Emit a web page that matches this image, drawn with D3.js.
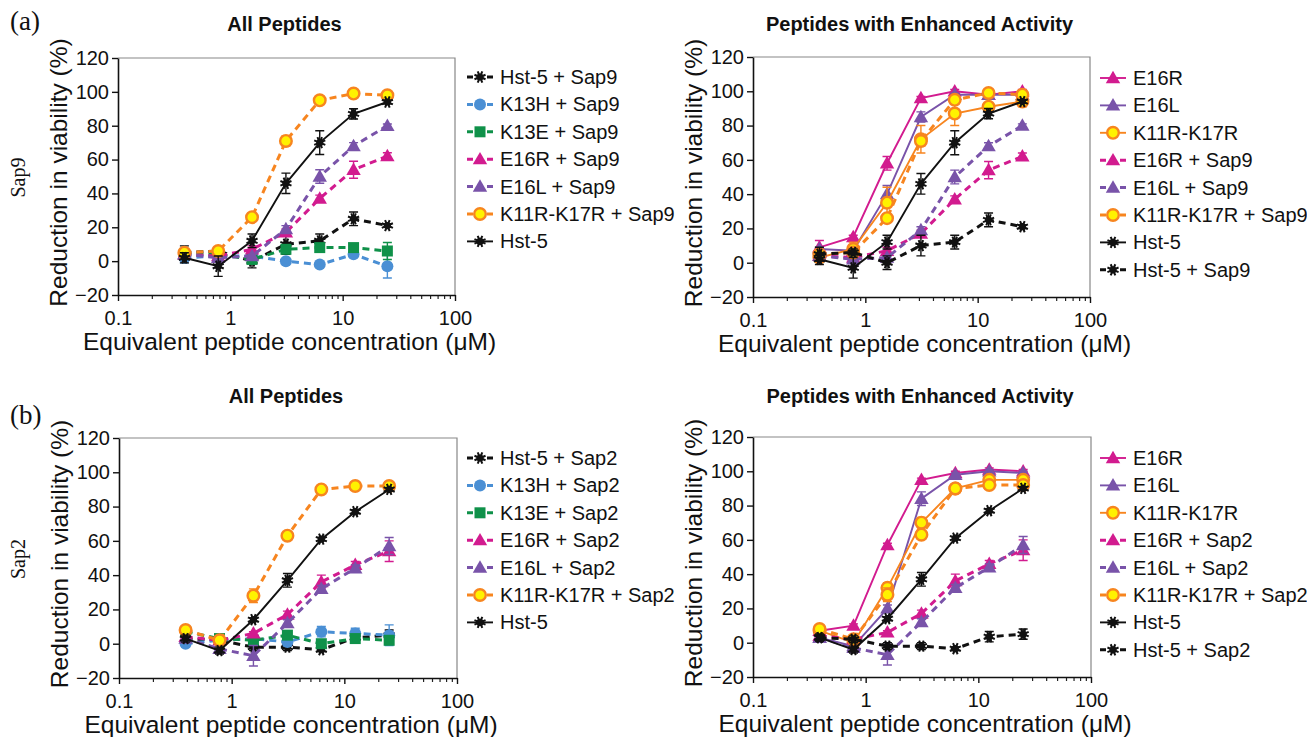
<!DOCTYPE html>
<html>
<head>
<meta charset="utf-8">
<script src="https://cdn.jsdelivr.net/npm/d3@7/dist/d3.min.js"></script>
<style>
  body { margin: 0; background: #fff; }
  svg text { font-family: "Liberation Sans", Arial, sans-serif; fill: #111; }
  .serif { font-family: "Liberation Serif", "Times New Roman", serif !important; }
</style>
</head>
<body>
<svg id="fig" width="1307" height="737"></svg>
<script>
// concentrations (uM)
var conc = [0.39, 0.78, 1.56, 3.125, 6.25, 12.5, 25];

// Sap9 experiment
var hst5Sap9 = [5, 6, 0, 10, 12, 25, 21];
var hst5Sap9Err = [4, 2, 4, 6, 4, 4, 1];
var k13hSap9 = [2, 3, 3, 0, -2, 4, -3];
var k13hSap9Err = [3, 1, 1, 1, 1, 1, 7];
var k13eSap9 = [4, 4, 1, 7, 8, 8, 6];
var k13eSap9Err = [2, 1, 1, 2, 2, 1, 5];
var e16rSap9 = [4, 3, 7, 17, 37, 54, 62];
var e16rSap9Err = [2, 1, 2, 2, 2, 5, 2];
var e16lSap9 = [4, 2, 3, 19, 50, 68, 80];
var e16lSap9Err = [2, 1, 1, 2, 4, 2, 1];
var k11rSap9 = [5, 6, 26, 71, 95, 99, 98];
var k11rSap9Err = [2, 1, 2, 3, 1, 1, 1];
var hst5A = [2, -3, 12, 46, 70, 87, 94];
var hst5AErr = [3, 6, 4, 6, 7, 3, 1];
var e16rA = [9, 15, 58, 96, 100, 98, 100];
var e16rAErr = [4, 1, 4, 1, 1, 1, 1];
var e16lA = [8, 7, 40, 85, 98, 98, 98];
var e16lAErr = [1, 1, 5, 3, 1, 1, 1];
var k11rA = [3, 8, 35, 72, 87, 91, 94];
var k11rAErr = [2, 4, 9, 8, 7, 2, 3];

// Sap2 experiment
var hst5Sap2 = [3, 2, -2, -2, -3.5, 3.5, 5];
var hst5Sap2Err = [2, 2, 2, 2, 1, 3, 3];
var k13hSap2 = [0, 2, 3, 1, 7, 6, 5];
var k13hSap2Err = [2, 1, 2, 2, 3, 3, 6];
var k13eSap2 = [7, 3, 2, 5, 0, 3, 2];
var k13eSap2Err = [2, 1, 2, 2, 2, 1, 2];
var e16rSap2 = [4, 2, 6, 17, 36, 46, 54];
var e16rSap2Err = [1, 1, 1, 2, 4, 2, 6];
var e16lSap2 = [3, -3, -7, 12, 32, 44, 57];
var e16lSap2Err = [1, 2, 6, 2, 2, 2, 5];
var k11rSap2 = [8, 2, 28, 63, 90, 92, 92];
var k11rSap2Err = [1, 1, 4, 2, 1, 1, 1];
var hst5B = [3, -4, 14, 37, 61, 77, 90];
var hst5BErr = [2, 2, 1, 4, 1, 1, 1];
var e16rB = [7, 10, 57, 95, 99, 101, 100];
var e16rBErr = [1, 1, 1, 1, 1, 1, 1];
var e16lB = [3, -2, 20, 84, 98, 100, 99];
var e16lBErr = [1, 1, 2, 4, 1, 1, 1];
var k11rB = [7, 0, 32, 70, 90, 95, 95];
var k11rBErr = [2, 1, 3, 3, 1, 1, 1];

var yTicks = [-20, 0, 20, 40, 60, 80, 100, 120];
var xTicks = [0.1, 1, 10, 100];

var C = { black: '#111111', blue: '#4a8fd4', green: '#0f9149', magenta: '#d21b8f',
  purple: '#7953a9', orange: '#f7851f', yellow: '#fff200' };

function s(label, vals, errs, color, marker, dashed) {
  return { label: label, vals: vals, errs: errs, color: color, marker: marker, dashed: dashed };
}

var panels = [
  { x0: 118, x1: 455, y0: 58, y1: 295, title: 'All Peptides', titleY: 31, tag: '(a)', tagY: 30, side: 'Sap9',
    legX: 467, legY: 77,
    series: [
      s('Hst-5 + Sap9', hst5Sap9, hst5Sap9Err, C.black, 'star', true),
      s('K13H + Sap9', k13hSap9, k13hSap9Err, C.blue, 'circle', true),
      s('K13E + Sap9', k13eSap9, k13eSap9Err, C.green, 'square', true),
      s('E16R + Sap9', e16rSap9, e16rSap9Err, C.magenta, 'tri', true),
      s('E16L + Sap9', e16lSap9, e16lSap9Err, C.purple, 'tri', true),
      s('K11R-K17R + Sap9', k11rSap9, k11rSap9Err, C.orange, 'ocircle', true),
      s('Hst-5', hst5A, hst5AErr, C.black, 'star', false)
    ] },
  { x0: 753, x1: 1090, y0: 57, y1: 297, title: 'Peptides with Enhanced Activity', titleY: 31, legX: 1100, legY: 78,
    series: [
      s('E16R', e16rA, e16rAErr, C.magenta, 'tri', false),
      s('E16L', e16lA, e16lAErr, C.purple, 'tri', false),
      s('K11R-K17R', k11rA, k11rAErr, C.orange, 'ocircle', false),
      s('E16R + Sap9', e16rSap9, e16rSap9Err, C.magenta, 'tri', true),
      s('E16L + Sap9', e16lSap9, e16lSap9Err, C.purple, 'tri', true),
      s('K11R-K17R + Sap9', k11rSap9, k11rSap9Err, C.orange, 'ocircle', true),
      s('Hst-5', hst5A, hst5AErr, C.black, 'star', false),
      s('Hst-5 + Sap9', hst5Sap9, hst5Sap9Err, C.black, 'star', true)
    ] },
  { x0: 119, x1: 457, y0: 438, y1: 678, title: 'All Peptides', titleY: 403, tag: '(b)', tagY: 424, side: 'Sap2',
    legX: 467, legY: 458,
    series: [
      s('Hst-5 + Sap2', hst5Sap2, hst5Sap2Err, C.black, 'star', true),
      s('K13H + Sap2', k13hSap2, k13hSap2Err, C.blue, 'circle', true),
      s('K13E + Sap2', k13eSap2, k13eSap2Err, C.green, 'square', true),
      s('E16R + Sap2', e16rSap2, e16rSap2Err, C.magenta, 'tri', true),
      s('E16L + Sap2', e16lSap2, e16lSap2Err, C.purple, 'tri', true),
      s('K11R-K17R + Sap2', k11rSap2, k11rSap2Err, C.orange, 'ocircle', true),
      s('Hst-5', hst5B, hst5BErr, C.black, 'star', false)
    ] },
  { x0: 753, x1: 1091, y0: 437, y1: 677, title: 'Peptides with Enhanced Activity', titleY: 403, legX: 1100, legY: 458,
    series: [
      s('E16R', e16rB, e16rBErr, C.magenta, 'tri', false),
      s('E16L', e16lB, e16lBErr, C.purple, 'tri', false),
      s('K11R-K17R', k11rB, k11rBErr, C.orange, 'ocircle', false),
      s('E16R + Sap2', e16rSap2, e16rSap2Err, C.magenta, 'tri', true),
      s('E16L + Sap2', e16lSap2, e16lSap2Err, C.purple, 'tri', true),
      s('K11R-K17R + Sap2', k11rSap2, k11rSap2Err, C.orange, 'ocircle', true),
      s('Hst-5', hst5B, hst5BErr, C.black, 'star', false),
      s('Hst-5 + Sap2', hst5Sap2, hst5Sap2Err, C.black, 'star', true)
    ] }
];

var svg = d3.select('#fig');

function drawMarker(g, kind, color, cx, cy) {
  if (kind === 'circle') {
    g.append('circle').attr('cx', cx).attr('cy', cy).attr('r', 6).attr('fill', color);
  } else if (kind === 'ocircle') {
    g.append('circle').attr('cx', cx).attr('cy', cy).attr('r', 5.8)
      .attr('fill', C.yellow).attr('stroke', color).attr('stroke-width', 2.4);
  } else if (kind === 'square') {
    g.append('rect').attr('x', cx - 5.5).attr('y', cy - 5.5).attr('width', 11).attr('height', 11).attr('fill', color);
  } else if (kind === 'tri') {
    g.append('path').attr('transform', 'translate(' + cx + ',' + (cy + 1) + ')')
      .attr('d', d3.symbol().type(d3.symbolTriangle).size(90)()).attr('fill', color);
  } else {
    var st = g.append('g').attr('transform', 'translate(' + cx + ',' + cy + ')');
    for (var a = 0; a < 4; a++) {
      var ang = a * Math.PI / 4 + Math.PI / 8;
      st.append('line').attr('x1', -6 * Math.cos(ang)).attr('y1', -6 * Math.sin(ang))
        .attr('x2', 6 * Math.cos(ang)).attr('y2', 6 * Math.sin(ang))
        .attr('stroke', color).attr('stroke-width', 2);
    }
    st.append('circle').attr('r', 3.6).attr('fill', color);
  }
}

panels.forEach(function (p) {
  var x = d3.scaleLog().domain([0.1, 100]).range([p.x0, p.x1]);
  var y = d3.scaleLinear().domain([-20, 120]).range([p.y1, p.y0]);
  var g = svg.append('g');
  var cx = (p.x0 + p.x1) / 2;

  // frame (top / right)
  g.append('path').attr('d', 'M' + p.x0 + ',' + p.y0 + 'H' + p.x1 + 'V' + p.y1)
    .attr('fill', 'none').attr('stroke', '#888').attr('stroke-width', 1.2);

  // minor x ticks
  var minor = [];
  [0.1, 1, 10].forEach(function (d) { for (var k = 2; k <= 9; k++) minor.push(d * k); });
  var gm = g.append('g').attr('transform', 'translate(0,' + p.y1 + ')')
    .call(d3.axisBottom(x).tickValues(minor).tickSize(4).tickFormat(''));
  gm.select('.domain').remove();
  gm.selectAll('line').attr('stroke', '#222').attr('stroke-width', 1.2);

  var gx = g.append('g').attr('transform', 'translate(0,' + p.y1 + ')')
    .call(d3.axisBottom(x).tickValues(xTicks).tickSize(6).tickSizeOuter(0).tickPadding(10)
      .tickFormat(function (d) { return d3.format('')(d); }));
  gx.select('.domain').attr('stroke', '#111').attr('stroke-width', 1.6);
  gx.selectAll('line').attr('stroke', '#111').attr('stroke-width', 1.4);
  gx.selectAll('text').attr('font-size', 20).attr('fill', '#111');

  var gy = g.append('g').attr('transform', 'translate(' + p.x0 + ',0)')
    .call(d3.axisLeft(y).tickValues(yTicks).tickSize(6).tickSizeOuter(0).tickPadding(3));
  gy.select('.domain').attr('stroke', '#111').attr('stroke-width', 1.6);
  gy.selectAll('line').attr('stroke', '#111').attr('stroke-width', 1.4);
  gy.selectAll('text').attr('font-size', 20).attr('fill', '#111');

  // labels
  g.append('text').attr('x', cx - 2).attr('y', p.titleY)
    .attr('text-anchor', 'middle').attr('font-weight', 'bold').attr('font-size', 20).text(p.title);
  g.append('text').attr('x', cx + 3).attr('y', p.y1 + 55)
    .attr('text-anchor', 'middle').attr('font-size', 24.5).text('Equivalent peptide concentration (\u03bcM)');
  g.append('text').attr('transform', 'translate(' + (p.x0 - 51) + ',' + ((p.y0 + p.y1) / 2 - 4) + ') rotate(-90)')
    .attr('text-anchor', 'middle').attr('font-size', 24.5).text('Reduction in viability (%)');
  if (p.tag) {
    g.append('text').attr('class', 'serif').attr('x', 10).attr('y', p.tagY)
      .attr('font-size', 27).text(p.tag);
    g.append('text').attr('class', 'serif')
      .attr('transform', 'translate(25,' + ((p.y0 + p.y1) / 2 + 1) + ') rotate(-90)')
      .attr('text-anchor', 'middle').attr('font-size', 20).text(p.side);
  }

  // series
  var line = d3.line().x(function (d) { return x(d[0]); }).y(function (d) { return y(d[1]); });
  p.series.forEach(function (sr) {
    var pts = conc.map(function (c, i) { return [c, sr.vals[i], sr.errs[i]]; });
    var sg = g.append('g');
    sg.append('path').datum(pts).attr('d', line).attr('fill', 'none').attr('stroke', sr.color)
      .attr('stroke-width', sr.dashed ? 3 : 1.9).attr('stroke-dasharray', sr.dashed ? '7,5' : null);
    pts.forEach(function (d) {
      var px = x(d[0]);
      sg.append('path').attr('d', 'M' + px + ',' + y(d[1] - d[2]) + 'V' + y(d[1] + d[2]) +
        'M' + (px - 4.5) + ',' + y(d[1] - d[2]) + 'h9M' + (px - 4.5) + ',' + y(d[1] + d[2]) + 'h9')
        .attr('stroke', sr.color).attr('stroke-width', 1.4).attr('fill', 'none');
      drawMarker(sg, sr.marker, sr.color, px, y(d[1]));
    });
  });

  // legend
  p.series.forEach(function (sr, i) {
    var ly = p.legY + i * 27.4;
    var lg = g.append('g');
    lg.append('line').attr('x1', p.legX).attr('x2', p.legX + 26).attr('y1', ly).attr('y2', ly)
      .attr('stroke', sr.color).attr('stroke-width', sr.dashed ? 3 : 1.9)
      .attr('stroke-dasharray', sr.dashed ? '6,4' : null);
    drawMarker(lg, sr.marker, sr.color, p.legX + 13, ly);
    lg.append('text').attr('x', p.legX + 33).attr('y', ly + 7).attr('font-size', 20).text(sr.label);
  });
});
</script>
</body>
</html>
